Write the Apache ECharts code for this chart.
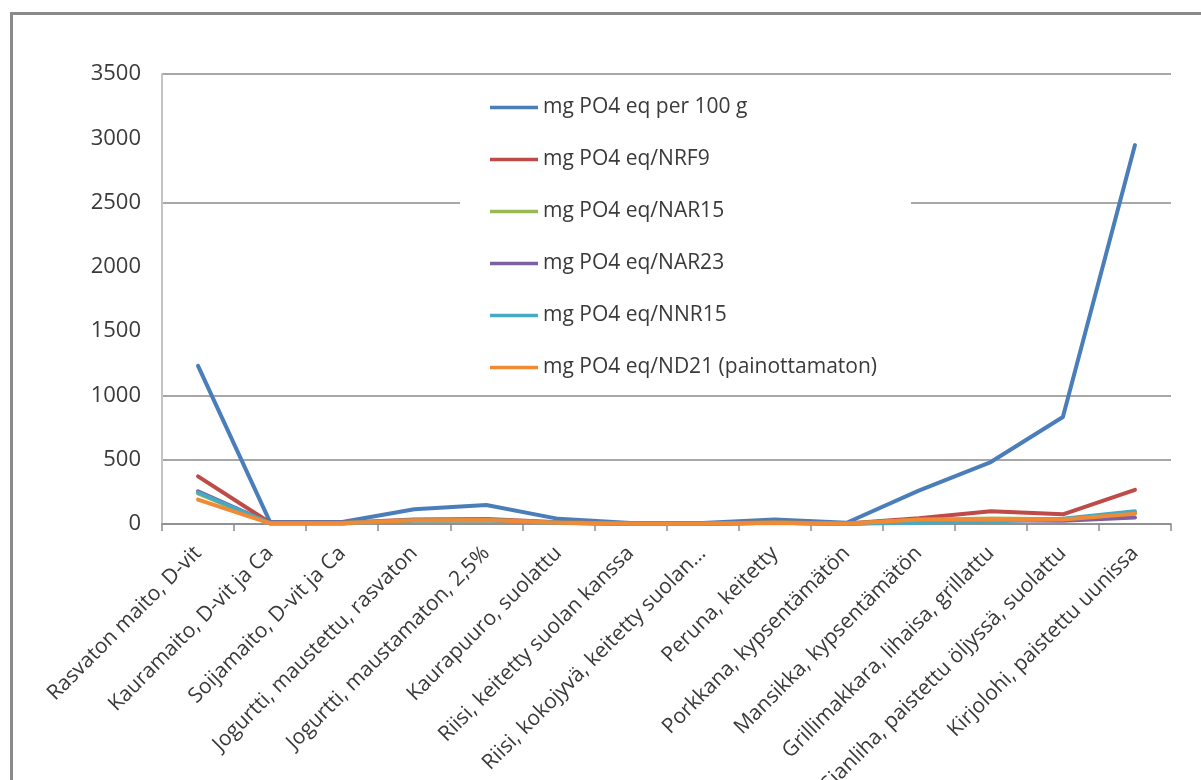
<!DOCTYPE html>
<html>
<head>
<meta charset="utf-8">
<title>mg PO4 eq</title>
<script src="https://cdn.jsdelivr.net/npm/echarts@6/dist/echarts.min.js"></script>
<style>
  html, body { margin: 0; padding: 0; background: #fff; }
  #chart { width: 1201px; height: 780px; }
</style>
</head>
<body>
<div id="chart"></div>
<script>
// Food items along the category axis
const categories = [
  'Rasvaton maito, D-vit',
  'Kauramaito, D-vit ja Ca',
  'Soijamaito, D-vit ja Ca',
  'Jogurtti, maustettu, rasvaton',
  'Jogurtti, maustamaton, 2,5%',
  'Kaurapuuro, suolattu',
  'Riisi, keitetty suolan kanssa',
  'Riisi, kokojyvä, keitetty suolan...',
  'Peruna, keitetty',
  'Porkkana, kypsentämätön',
  'Mansikka, kypsentämätön',
  'Grillimakkara, lihaisa, grillattu',
  'Sianliha, paistettu öljyssä, suolattu',
  'Kirjolohi, paistettu uunissa'
];

// Series values
const per100g = [1230, 15, 15, 115, 148, 40, 8, 8, 35, 10, 260, 482, 832, 2947];
const perNRF9 = [370, 10, 10, 35, 38, 14, 3, 3, 14, 3, 45, 100, 75, 265];
const perNAR15 = [240, 6, 6, 30, 32, 10, 2, 2, 10, 2, 30, 40, 35, 85];
const perNAR23 = [255, 6, 6, 30, 32, 10, 2, 2, 10, 2, 20, 30, 25, 50];
const perNNR15 = [245, 6, 6, 28, 30, 10, 2, 2, 10, 2, 10, 20, 40, 100];
const perND21 = [190, 5, 5, 30, 32, 10, 2, 2, 10, 2, 35, 35, 35, 80];

const seriesNames = [
  'mg PO4 eq per 100 g',
  'mg PO4 eq/NRF9',
  'mg PO4 eq/NAR15',
  'mg PO4 eq/NAR23',
  'mg PO4 eq/NNR15',
  'mg PO4 eq/ND21 (painottamaton)'
];
const seriesData = [per100g, perNRF9, perNAR15, perNAR23, perNNR15, perND21];
const seriesColors = ['#4a7ebb', '#be4b48', '#98b954', '#7d60a0', '#46aac5', '#f08a35'];
const seriesWidths = [4, 4, 4.5, 4, 4, 4];

// Value axis ticks
const yMin = 0, yMax = 3500, yStep = 500;

const font = '"Open Sans", "DejaVu Sans", sans-serif';
const textColor = '#3a3a3a';
const gridGray = '#8a8a8a';
const none = 'rgba(0,0,0,0)';

const chart = echarts.init(document.getElementById('chart'), null, { renderer: 'canvas' });

chart.setOption({
  backgroundColor: '#ffffff',
  animation: false,
  graphic: [{
    type: 'rect',
    left: 9, top: 11,
    shape: { width: 1400, height: 1000 },
    style: { fill: 'none', stroke: '#8a8a8a', lineWidth: 3 },
    z: -10
  }],
  grid: {
    left: 162, right: 30, top: 74, bottom: 256,
    containLabel: false,
    outerBoundsMode: 'none'
  },
  legend: {
    orient: 'vertical',
    left: 460,
    top: 89,
    backgroundColor: '#ffffff',
    padding: [8, 34, 8, 30],
    icon: 'rect',
    itemWidth: 48,
    itemHeight: 3.5,
    itemGap: 31,
    data: seriesNames,
    textStyle: { fontFamily: font, fontSize: 21, color: textColor, lineHeight: 20 },
    z: 10
  },
  xAxis: {
    type: 'category',
    data: categories,
    boundaryGap: true,
    axisLine: { lineStyle: { color: gridGray, width: 1.5 } },
    axisTick: { show: true, length: 7, interval: 0, lineStyle: { color: gridGray, width: 1.5 } },
    axisLabel: {
      interval: 0,
      rotate: 45,
      margin: 26,
      fontFamily: font,
      fontSize: 21,
      color: textColor
    }
  },
  yAxis: {
    type: 'value',
    min: yMin,
    max: yMax,
    interval: yStep,
    axisLine: { show: true, lineStyle: { color: '#c4c4c4', width: 2 } },
    axisTick: { show: false },
    axisLabel: {
      margin: 21,
      fontFamily: font,
      fontSize: 22,
      color: textColor,
      formatter: (v) => String(v)
    },
    splitLine: {
      show: true,
      lineStyle: {
        width: 1.5,
        color: [gridGray, gridGray, gridGray, none, none, gridGray, none, gridGray]
      }
    }
  },
  series: seriesData.map((d, i) => ({
    name: seriesNames[i],
    type: 'line',
    data: d,
    symbol: 'none',
    smooth: false,
    color: seriesColors[i],
    lineStyle: { width: seriesWidths[i], color: seriesColors[i], join: 'round', cap: 'round' },
    z: 2 + i
  }))
});
</script>
</body>
</html>
